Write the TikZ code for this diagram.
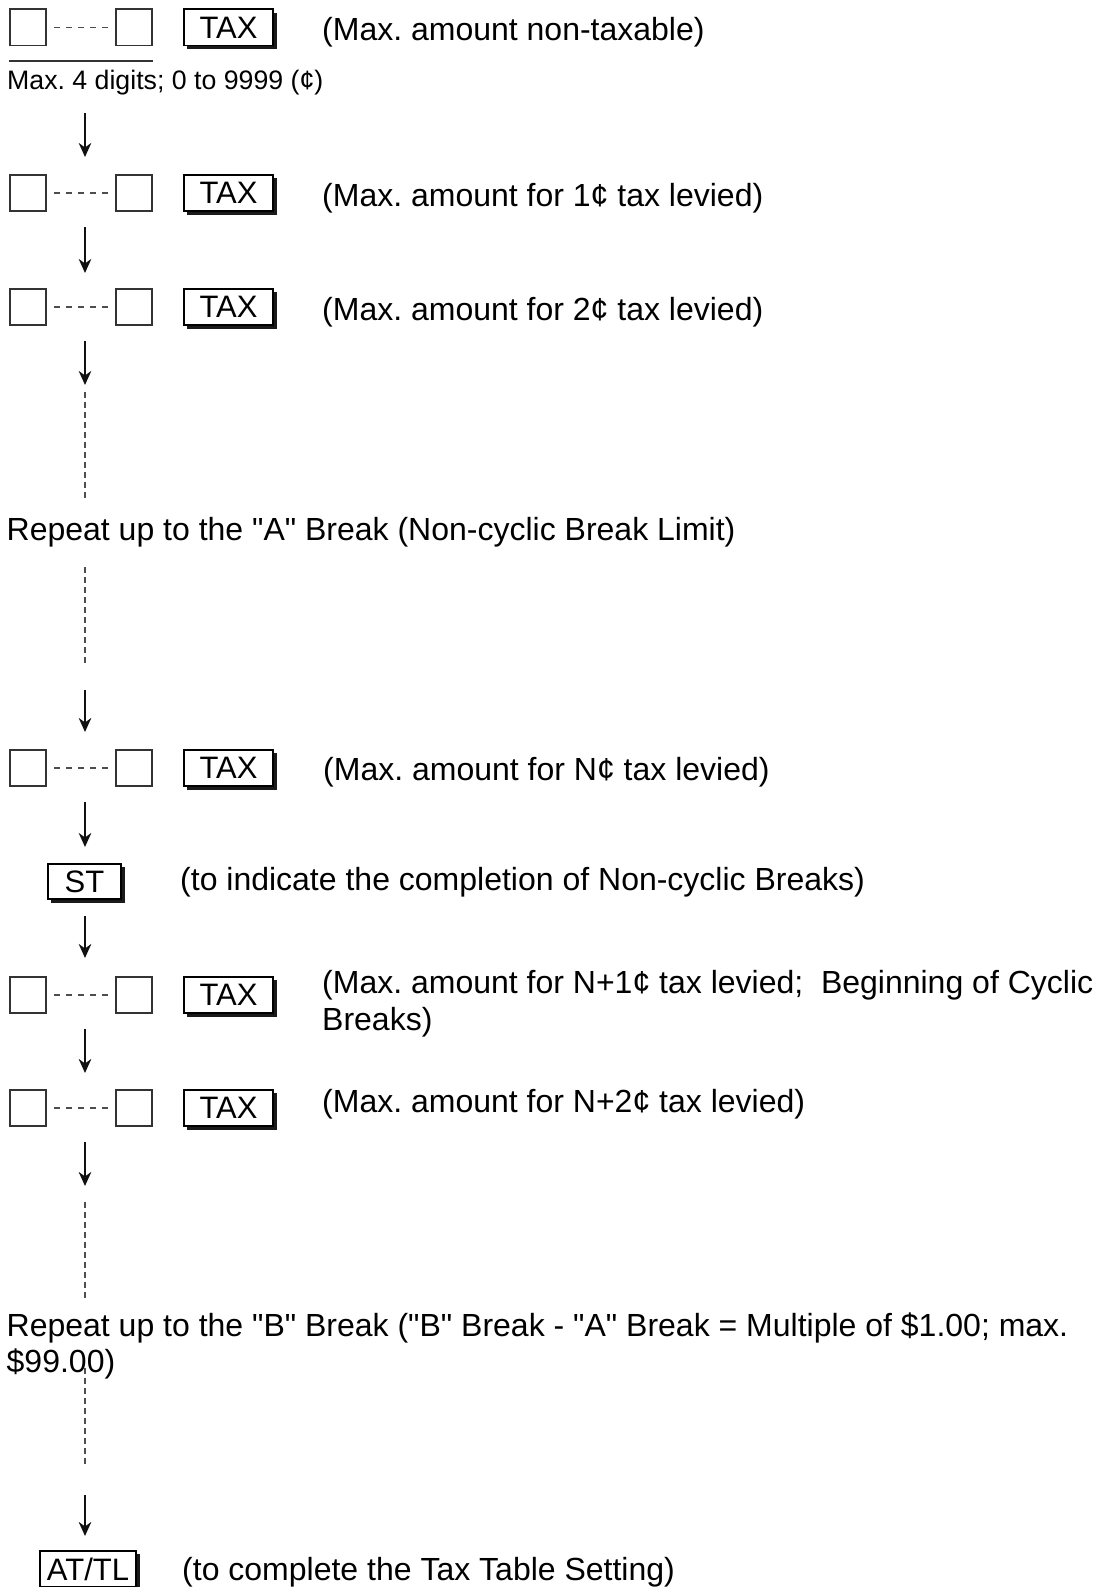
\documentclass[tikz,border=0pt]{standalone}
\usepackage{fontspec}
\newfontfamily\helv{Liberation Sans}
\usetikzlibrary{arrows.meta,shadows}
\definecolor{boxgray}{HTML}{333333}
\definecolor{shadowgray}{HTML}{1A1A1A}
\definecolor{arrowgray}{HTML}{111111}
\definecolor{dashgray}{HTML}{4D4D4D}
\newcommand\lblfnt{\helv\fontsize{32}{37}\selectfont}
\newcommand\smallfnt{\helv\fontsize{26.7}{30}\selectfont}
\newcommand\keyfnt{\helv\fontsize{31}{35}\selectfont}
\newcommand\keyrow[2]{%
  \node[digit] (da#1) at (28,#2) {};
  \node[digit] (db#1) at (134,#2) {};
  \draw[link] (da#1) -- (db#1);
  \node[keycap, minimum width=89.2pt, minimum height=36.2pt] (tax#1) at (228.5,#2) {TAX};
}
\begin{document}
\frenchspacing
\begin{tikzpicture}[x=1pt,y=-1pt,
  digit/.style={draw=boxgray, line width=1.6pt, minimum width=36.4pt, minimum height=36.4pt, inner sep=0pt},
  keycap/.style={draw=black, line width=1.8pt, fill=white, inner sep=0pt, font=\keyfnt,
    general shadow={fill=shadowgray, shadow xshift=3.5pt, shadow yshift=-3.5pt}},
  lbl/.style={anchor=base west, inner sep=0pt, font=\lblfnt},
  flow/.style={line width=2.2pt, draw=arrowgray, -{Stealth[length=14pt,width=12.5pt,inset=4.5pt]}},
  gap/.style={line width=1.6pt, draw=dashgray, dash pattern=on 5.5pt off 4.5pt},
  link/.style={line width=1.4pt, draw=dashgray, dash pattern=on 6pt off 6pt, shorten <=7pt, shorten >=7pt}]
\useasboundingbox (0,0) rectangle (1101,1587);

% rows of digit entries
\keyrow{1}{27.5}
\keyrow{2}{193}
\keyrow{3}{307}
\keyrow{4}{768}
\keyrow{5}{995}
\keyrow{6}{1108}

% underline and digit note
\coordinate (ulA) at (9,61);
\coordinate (ulB) at (153,61);
\draw[line width=1.4pt, draw=boxgray] (ulA) -- (ulB);
\node[lbl, font=\smallfnt] (note) at (7,89) {Max. 4 digits; 0 to 9999 (¢)};

% labels
\node[lbl] (l1) at (322,40.5) {(Max. amount non-taxable)};
\node[lbl] (l2) at (322,206) {(Max. amount for 1¢ tax levied)};
\node[lbl] (l3) at (322,320) {(Max. amount for 2¢ tax levied)};
\node[lbl] (ta) at (6.5,540.5) {Repeat up to the "A" Break (Non-cyclic Break Limit)};
\node[lbl] (l4) at (323,780) {(Max. amount for N¢ tax levied)};
\node[keycap, minimum width=73.2pt, minimum height=35.2pt] (st) at (84.5,881.5) {ST};
\node[lbl] (lst) at (180,890.5) {(to indicate the completion of Non-cyclic Breaks)};
\node[lbl] (l5a) at (322,993.5) {(Max. amount for N+1¢ tax levied;~ Beginning of Cyclic};
\node[lbl] (l5b) at (322,1030.5) {Breaks)};
\node[lbl] (l6) at (322,1112.5) {(Max. amount for N+2¢ tax levied)};
\node[lbl] (tb1) at (6.5,1336.5) {Repeat up to the "B" Break ("B" Break - "A" Break = Multiple of \$1.00; max.};
\node[lbl] (tb2) at (6.5,1372.5) {\$99.00)};
\node[keycap, minimum width=96.2pt, minimum height=36.2pt] (attl) at (88,1569) {AT/TL};
\node[lbl] (lat) at (182,1580) {(to complete the Tax Table Setting)};

% connector end points
\foreach \n/\ys/\ye in {1/113/157, 2/227/273, 3/341/385, 4/690/732, 5/802/847, 6/916/958, 7/1029/1073, 8/1142/1186, 9/1495/1536}{
  \coordinate (as\n) at (85,\ys);
  \coordinate (ae\n) at (85,\ye);
}
\foreach \n/\ys/\ye in {1/392/498, 2/567/666, 3/1202/1300, 4/1368/1467}{
  \coordinate (ds\n) at (85,\ys);
  \coordinate (de\n) at (85,\ye);
}
\foreach \n in {1,...,9}{ \draw[flow] (as\n) -- (ae\n); }
\foreach \n in {1,...,4}{ \draw[gap] (ds\n) -- (de\n); }
\end{tikzpicture}
\end{document}
